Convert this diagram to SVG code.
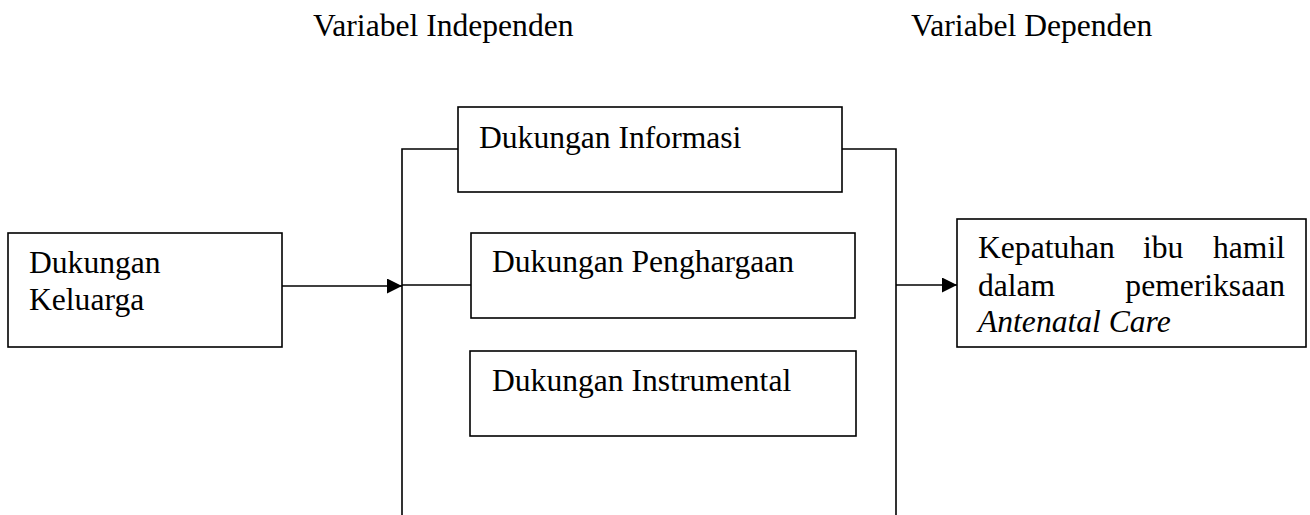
<svg xmlns="http://www.w3.org/2000/svg" width="1310" height="515" viewBox="0 0 1310 515">
<style>
.box{fill:#fff;stroke:#000;stroke-width:1.6}
.ln{fill:none;stroke:#000;stroke-width:1.6}
text{font-family:"Liberation Serif","Times New Roman",serif;font-size:31.6px;fill:#000}
.it{font-style:italic}
</style>
<defs>
<marker id="ah" viewBox="0 0 10 10" refX="10" refY="5" markerWidth="15" markerHeight="15" markerUnits="userSpaceOnUse" orient="auto">
<path d="M0,0 L10,5 L0,10 Z" fill="#000"/>
</marker>
</defs>
<rect width="1310" height="515" fill="#fff"/>
<g id="titles">
<text x="313" y="36">Variabel Independen</text>
<text x="911" y="36">Variabel Dependen</text>
</g>
<g id="connectors">
<path class="ln" d="M402,515 V149 H458"/>
<path class="ln" d="M896,515 V149 H842"/>
<line class="ln" x1="402" y1="285" x2="471" y2="285"/>
<line class="ln" x1="282" y1="286" x2="402" y2="286" marker-end="url(#ah)"/>
<line class="ln" x1="896" y1="285" x2="957" y2="285" marker-end="url(#ah)"/>
</g>
<g id="keluarga">
<rect class="box" x="8" y="233" width="274" height="114"/>
<text x="29" y="273">Dukungan</text>
<text x="29" y="310">Keluarga</text>
</g>
<g id="informasi">
<rect class="box" x="458" y="107" width="384" height="85"/>
<text x="479" y="148">Dukungan Informasi</text>
</g>
<g id="penghargaan">
<rect class="box" x="471" y="233" width="384" height="85"/>
<text x="492" y="272">Dukungan Penghargaan</text>
</g>
<g id="instrumental">
<rect class="box" x="470" y="351" width="386" height="85"/>
<text x="492" y="391">Dukungan Instrumental</text>
</g>
<g id="kepatuhan">
<rect class="box" x="957" y="219" width="349" height="128"/>
<text x="978" y="258">Kepatuhan</text>
<text x="1143" y="258">ibu</text>
<text x="1285" y="258" text-anchor="end">hamil</text>
<text x="978" y="296">dalam</text>
<text x="1285" y="296" text-anchor="end">pemeriksaan</text>
<text class="it" x="978" y="332">Antenatal Care</text>
</g>
</svg>
